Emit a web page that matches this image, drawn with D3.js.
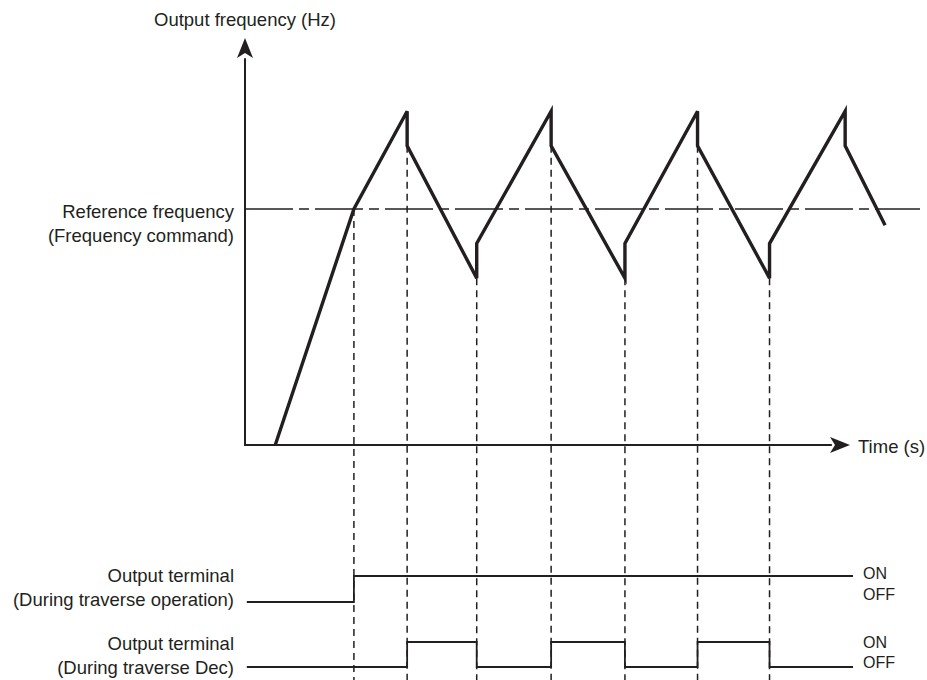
<!DOCTYPE html>
<html>
<head>
<meta charset="utf-8">
<script src="https://cdn.jsdelivr.net/npm/d3@7"></script>
<style>
  body { margin: 0; background: #fff; }
  text { font-family: "Liberation Sans", Arial, sans-serif; fill: #231f20; }
</style>
</head>
<body>
<div id="chart"></div>
<script>
// waveform of the output frequency (time units, % of axis)
const freqTime  = [5, 18, 26.8, 26.8, 38.3, 38.3, 50.6, 50.6, 62.8, 62.8, 74.8, 74.8, 86.7, 86.7, 99.2, 99.2, 105.8];
const freqValue = [0, 58, 82, 73.5, 41, 49.5, 82, 73.5, 41, 49.5, 82, 73.5, 41, 49.5, 82, 73.5, 54];

const refFreq = 58;

// dashed markers: time and the frequency where they start
const markTime = [18, 26.8, 38.3, 50.6, 62.8, 74.8, 86.7];
const markFreq = [58, 73.5, 41, 73.5, 41, 73.5, 41];

// output terminal signals
const sigStart = 0.3;
const sigEnd = 100.5;
const sig1Edges = [18];
const sig2Edges = [26.8, 38.3, 50.6, 62.8, 74.8, 86.7];

const w = 927;
const h = 680;
const ink = "#231f20";

const xScale = d3.scaleLinear().domain([0, 100]).range([245, 850]);
const yScale = d3.scaleLinear().domain([0, 100]).range([445, 38]);

const svg = d3.select("#chart")
  .append("svg")
  .attr("width", w)
  .attr("height", h);

// reference line (dash-dot)
svg.append("line")
  .attr("x1", xScale(0)).attr("x2", 920)
  .attr("y1", yScale(refFreq)).attr("y2", yScale(refFreq))
  .attr("stroke", ink)
  .attr("stroke-width", 1.5)
  .attr("stroke-dasharray", "48,6,10,6");

// dashed vertical markers
svg.selectAll(".mark")
  .data(markTime)
  .enter()
  .append("line")
  .attr("class", "mark")
  .attr("x1", (d) => xScale(d)).attr("x2", (d) => xScale(d))
  .attr("y1", (d, i) => yScale(markFreq[i]))
  .attr("y2", h)
  .attr("stroke", ink)
  .attr("stroke-width", 1.5)
  .attr("stroke-dasharray", "7,5");

// axes
svg.append("line")
  .attr("x1", xScale(0)).attr("x2", xScale(0))
  .attr("y1", yScale(0) + 1).attr("y2", yScale(95))
  .attr("stroke", ink).attr("stroke-width", 2);

svg.append("line")
  .attr("x1", xScale(0) - 1).attr("x2", xScale(97))
  .attr("y1", yScale(0)).attr("y2", yScale(0))
  .attr("stroke", ink).attr("stroke-width", 2);

// arrow heads
const ax = xScale(0), ay = yScale(100);
svg.append("path")
  .attr("d", `M${ax},${ay} L${ax + 8},${ay + 20} L${ax},${ay + 15} L${ax - 8},${ay + 20} Z`)
  .attr("fill", ink);

const bx = xScale(100), by = yScale(0);
svg.append("path")
  .attr("d", `M${bx},${by} L${bx - 20},${by - 8} L${bx - 15},${by} L${bx - 20},${by + 8} Z`)
  .attr("fill", ink);

// frequency waveform
const line = d3.line()
  .x((d) => xScale(d[0]))
  .y((d) => yScale(d[1]));

svg.append("path")
  .datum(freqTime.map((t, i) => [t, freqValue[i]]))
  .attr("d", line)
  .attr("fill", "none")
  .attr("stroke", ink)
  .attr("stroke-width", 3.4)
  .attr("stroke-linejoin", "miter");

// signals
function signalPoints(edges, offY, onY) {
  let pts = [[xScale(sigStart), offY]];
  let level = offY;
  edges.forEach((e) => {
    pts.push([xScale(e), level]);
    level = level === offY ? onY : offY;
    pts.push([xScale(e), level]);
  });
  pts.push([xScale(sigEnd), level]);
  return pts;
}

const sig1 = signalPoints(sig1Edges, 602, 576);
const sig2 = signalPoints(sig2Edges, 667, 642);

[sig1, sig2].forEach((pts) => {
  svg.append("path")
    .attr("d", d3.line()(pts))
    .attr("fill", "none")
    .attr("stroke", ink)
    .attr("stroke-width", 1.8);
});

// texts
svg.append("text")
  .text("Output frequency (Hz)")
  .attr("x", xScale(0)).attr("y", 26)
  .attr("text-anchor", "middle")
  .style("font-size", "18.5px");

svg.append("text")
  .text("Time (s)")
  .attr("x", 858).attr("y", 453)
  .style("font-size", "18.5px");

const leftLabels = [
  ["Reference frequency", 218],
  ["(Frequency command)", 242],
  ["Output terminal", 582],
  ["(During traverse operation)", 606],
  ["Output terminal", 650],
  ["(During traverse Dec)", 674]
];

svg.selectAll(".lbl")
  .data(leftLabels)
  .enter()
  .append("text")
  .attr("class", "lbl")
  .text((d) => d[0])
  .attr("x", 234)
  .attr("y", (d) => d[1])
  .attr("text-anchor", "end")
  .style("font-size", "18.5px");

const stateLabels = [["ON", 579], ["OFF", 600], ["ON", 648], ["OFF", 668]];
svg.selectAll(".state")
  .data(stateLabels)
  .enter()
  .append("text")
  .attr("class", "state")
  .text((d) => d[0])
  .attr("x", 863)
  .attr("y", (d) => d[1])
  .style("font-size", "16px");
</script>
</body>
</html>
